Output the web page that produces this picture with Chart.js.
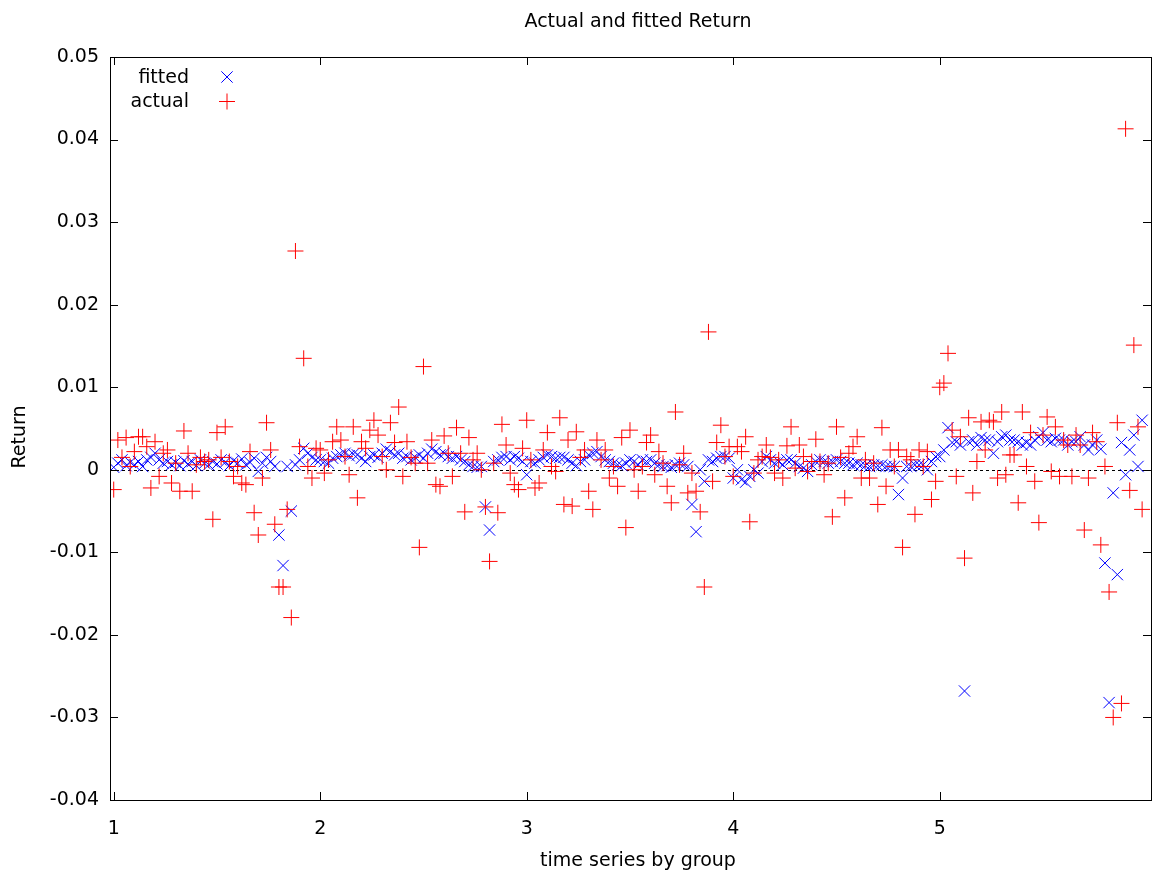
<!DOCTYPE html>
<html>
<head>
<meta charset="utf-8">
<title>Actual and fitted Return</title>
<script src="https://cdn.jsdelivr.net/npm/chart.js@4.4.1/dist/chart.umd.min.js"></script>
<style>
  body { margin: 0; background: #fff; }
  #chart { display: block; }
</style>
</head>
<body>
<canvas id="chart" width="1162" height="875"></canvas>
<script>
// groups on the x axis, each holds the same number of observations
const groups = [1, 2, 3, 4, 5];
const perGroup = 50;
const xTicks = [1, 2, 3, 4, 5];
const yTicks = [-0.04, -0.03, -0.02, -0.01, 0, 0.01, 0.02, 0.03, 0.04, 0.05];

// fitted return
const fittedG1 = [0.0003, 0.0008, 0.0012, 0.0005, 0.0009, 0.0006, 0.0010, 0.0004, 0.0012, 0.0015,
  0.0020, 0.0012, 0.0008, 0.0010, 0.0006, 0.0009, 0.0005, 0.0011, 0.0007, 0.0010,
  0.0005, 0.0012, 0.0008, 0.0006, 0.0010, 0.0007, 0.0012, 0.0009, 0.0005, 0.0011,
  0.0008, 0.0013, 0.0006, 0.0009, 0.0014, -0.0002, 0.0008, 0.0015, 0.0010, 0.0004,
  -0.0079, -0.0116, 0.0004, -0.0050, 0.0006, 0.0012, 0.0026, 0.0020, 0.0015, 0.0012];
const fittedG2 = [0.0012, 0.0010, 0.0008, 0.0014, 0.0016, 0.0018, 0.0020, 0.0017, 0.0019, 0.0018,
  0.0014, 0.0010, 0.0016, 0.0018, 0.0015, 0.0020, 0.0025, 0.0022, 0.0018, 0.0020,
  0.0014, 0.0016, 0.0012, 0.0015, 0.0018, 0.0014, 0.0020, 0.0025, 0.0022, 0.0018,
  0.0020, 0.0016, 0.0014, 0.0016, 0.0012, 0.0010, 0.0006, 0.0004, 0.0003, 0.0004,
  -0.0045, -0.0073, 0.0010, 0.0012, 0.0015, 0.0016, 0.0012, 0.0016, 0.0014, 0.0010];
const fittedG3 = [-0.0006, 0.0010, 0.0008, 0.0012, 0.0015, 0.0018, 0.0016, 0.0014, 0.0015, 0.0015,
  0.0012, 0.0008, 0.0005, 0.0010, 0.0012, 0.0018, 0.0020, 0.0022, 0.0016, 0.0012,
  0.0010, 0.0008, 0.0006, 0.0005, 0.0008, 0.0012, 0.0010, 0.0006, 0.0012, 0.0010,
  0.0012, 0.0008, 0.0006, 0.0004, 0.0005, 0.0003, 0.0006, 0.0008, 0.0006, 0.0004,
  -0.0042, -0.0075, 0.0000, -0.0014, 0.0012, 0.0010, 0.0014, 0.0016, 0.0016, 0.0014];
const fittedG4 = [-0.0010, 0.0000, -0.0012, -0.0015, -0.0008, 0.0000, -0.0004, 0.0010, 0.0016, 0.0012,
  0.0008, 0.0010, 0.0006, 0.0012, 0.0012, 0.0008, 0.0004, 0.0002, -0.0002, 0.0006,
  0.0010, 0.0012, 0.0010, 0.0008, 0.0010, 0.0012, 0.0010, 0.0008, 0.0008, 0.0006,
  0.0008, 0.0006, 0.0005, 0.0004, 0.0006, 0.0005, 0.0006, 0.0004, 0.0004, 0.0004,
  -0.0030, -0.0010, 0.0004, 0.0004, 0.0006, 0.0006, 0.0006, 0.0000, 0.0010, 0.0016];
const fittedG5 = [0.0016, 0.0024, 0.0051, 0.0033, 0.0034, 0.0030, -0.0268, 0.0034, 0.0036, 0.0030,
  0.0039, 0.0036, 0.0036, 0.0020, 0.0034, 0.0040, 0.0042, 0.0036, 0.0036, 0.0034,
  0.0030, 0.0033, 0.0030, 0.0036, 0.0040, 0.0045, 0.0036, 0.0034, 0.0038, 0.0036,
  0.0036, 0.0030, 0.0034, 0.0034, 0.0040, 0.0030, 0.0024, 0.0030, 0.0036, 0.0025,
  -0.0113, -0.0282, -0.0028, -0.0127, 0.0033, -0.0006, 0.0024, 0.0042, 0.0004, 0.0060];

// actual return
const actualG1 = [-0.0024, 0.0036, 0.0015, 0.0039, 0.0004, 0.0022, 0.0040, 0.0040, 0.0028, -0.0022,
  0.0034, -0.0008, 0.0020, 0.0024, -0.0016, 0.0008, -0.0026, 0.0047, 0.0020, -0.0026,
  0.0006, 0.0015, 0.0010, 0.0012, -0.0060, 0.0045, 0.0015, 0.0052, 0.0010, -0.0008,
  0.0004, -0.0016, -0.0018, 0.0022, -0.0052, -0.0079, -0.0010, 0.0057, 0.0024, -0.0066,
  -0.0142, -0.0142, -0.0048, -0.0179, 0.0265, 0.0028, 0.0135, 0.0004, -0.0010, 0.0026];
const actualG2 = [0.0024, -0.0004, 0.0012, 0.0034, 0.0052, 0.0036, 0.0016, -0.0006, 0.0052, -0.0034,
  0.0034, 0.0026, 0.0048, 0.0060, 0.0042, 0.0016, 0.0000, 0.0057, 0.0033, 0.0076,
  -0.0008, 0.0034, 0.0015, 0.0008, -0.0094, 0.0125, 0.0008, 0.0036, -0.0018, -0.0020,
  0.0041, 0.0020, -0.0008, 0.0051, 0.0020, -0.0051, 0.0039, 0.0012, 0.0020, 0.0000,
  -0.0045, -0.0111, 0.0008, -0.0052, 0.0055, 0.0030, -0.0004, -0.0018, -0.0024, 0.0026];
const actualG3 = [0.0060, 0.0012, -0.0022, -0.0016, 0.0024, 0.0045, 0.0004, -0.0002, 0.0063, -0.0042,
  0.0036, -0.0044, 0.0046, 0.0015, 0.0024, -0.0026, -0.0048, 0.0036, 0.0012, 0.0024,
  -0.0010, 0.0004, -0.0020, 0.0039, -0.0070, 0.0048, 0.0000, -0.0026, 0.0004, 0.0033,
  0.0042, -0.0006, 0.0022, 0.0008, -0.0020, -0.0040, 0.0070, 0.0006, 0.0020, -0.0028,
  -0.0004, -0.0026, -0.0051, -0.0142, 0.0167, -0.0014, 0.0033, 0.0054, 0.0016, 0.0028];
const actualG4 = [-0.0008, 0.0028, 0.0022, 0.0040, -0.0063, -0.0004, 0.0012, 0.0016, 0.0030, 0.0015,
  -0.0004, 0.0012, -0.0010, 0.0029, 0.0052, 0.0002, 0.0030, 0.0016, -0.0002, 0.0010,
  0.0037, 0.0010, -0.0006, 0.0008, -0.0057, 0.0052, 0.0015, -0.0034, 0.0020, 0.0028,
  0.0040, -0.0010, 0.0012, -0.0010, 0.0008, -0.0042, 0.0051, -0.0020, 0.0024, 0.0004,
  0.0024, -0.0094, 0.0016, 0.0012, -0.0054, 0.0024, 0.0004, 0.0022, -0.0036, -0.0014];
const actualG5 = [0.0100, 0.0105, 0.0141, 0.0048, -0.0008, 0.0040, -0.0107, 0.0063, -0.0028, 0.0010,
  0.0058, 0.0024, 0.0060, 0.0058, -0.0010, 0.0070, -0.0006, 0.0018, 0.0018, -0.0040,
  0.0070, 0.0004, 0.0045, -0.0014, -0.0064, 0.0042, 0.0064, -0.0002, 0.0052, -0.0008,
  0.0036, 0.0030, -0.0008, 0.0042, 0.0030, -0.0073, -0.0010, 0.0045, 0.0034, -0.0091,
  0.0004, -0.0148, -0.0300, 0.0057, -0.0283, 0.0413, -0.0025, 0.0151, 0.0052, -0.0048];

const fittedGroups = [fittedG1, fittedG2, fittedG3, fittedG4, fittedG5];
const actualGroups = [actualG1, actualG2, actualG3, actualG4, actualG5];

// observation i of group g sits at g + i/perGroup
function toPoints(series) {
    const points = [];
    series.forEach((values, g) => {
        values.forEach((v, i) => {
            points.push({ x: groups[g] + i / perGroup, y: v });
        });
    });
    return points;
}

const FONT = "'DejaVu Sans', Verdana, sans-serif";
const FONT_SIZE = 19;

// dashed zero axis, drawn under the points like gnuplot does
const zeroAxis = {
    id: 'zeroAxis',
    beforeDatasetsDraw(chart) {
        const ctx = chart.ctx;
        const a = chart.chartArea;
        const y0 = Math.round(chart.scales.y.getPixelForValue(0)) + 0.5;
        ctx.save();
        ctx.strokeStyle = '#000';
        ctx.lineWidth = 1;
        ctx.setLineDash([3, 3]);
        ctx.beginPath();
        ctx.moveTo(a.left, y0);
        ctx.lineTo(a.right, y0);
        ctx.stroke();
        ctx.restore();
    }
};

// gnuplot style frame: box, inward ticks on all four sides, titles and key
const gnuplotFrame = {
    id: 'gnuplotFrame',
    afterDatasetsDraw(chart) {
        const ctx = chart.ctx;
        const a = chart.chartArea;
        const xs = chart.scales.x;
        const ys = chart.scales.y;
        ctx.save();

        ctx.strokeStyle = '#000';
        ctx.lineWidth = 1;
        ctx.strokeRect(a.left + 0.5, a.top + 0.5, a.right - a.left, a.bottom - a.top);

        ctx.beginPath();
        xTicks.forEach(v => {
            const px = Math.round(xs.getPixelForValue(v)) + 0.5;
            ctx.moveTo(px, a.bottom);
            ctx.lineTo(px, a.bottom - 8);
            ctx.moveTo(px, a.top);
            ctx.lineTo(px, a.top + 8);
        });
        yTicks.forEach(v => {
            const py = Math.round(ys.getPixelForValue(v)) + 0.5;
            ctx.moveTo(a.left, py);
            ctx.lineTo(a.left + 8, py);
            ctx.moveTo(a.right, py);
            ctx.lineTo(a.right - 8, py);
        });
        ctx.stroke();

        ctx.fillStyle = '#000';
        ctx.textAlign = 'center';
        ctx.textBaseline = 'middle';
        ctx.font = FONT_SIZE + 'px ' + FONT;
        ctx.fillText('Actual and fitted Return', 638, 22);
        ctx.fillText('time series by group', 638, 861);
        ctx.save();
        ctx.translate(20, 437);
        ctx.rotate(-Math.PI / 2);
        ctx.fillText('Return', 0, 0);
        ctx.restore();

        // key, text first then the sample mark
        ctx.textAlign = 'right';
        ctx.fillText('fitted', 189, 78);
        ctx.fillText('actual', 189, 102);
        chart.data.datasets.forEach((ds, i) => {
            ctx.strokeStyle = ds.borderColor;
            ctx.fillStyle = ds.backgroundColor;
            Chart.helpers.drawPoint(ctx, {
                pointStyle: ds.pointStyle,
                radius: ds.pointRadius,
                rotation: 0,
                borderWidth: ds.borderWidth
            }, 227, 77 + i * 24.5);
        });

        ctx.restore();
    }
};

new Chart(document.getElementById('chart').getContext('2d'), {
    type: 'scatter',
    data: {
        datasets: [
            {
                label: 'fitted',
                data: toPoints(fittedGroups),
                pointStyle: 'crossRot',
                pointRadius: 8,
                borderColor: '#0000ff',
                backgroundColor: '#0000ff',
                borderWidth: 1,
                order: 2
            },
            {
                label: 'actual',
                data: toPoints(actualGroups),
                pointStyle: 'cross',
                pointRadius: 8,
                borderColor: '#ff0000',
                backgroundColor: '#ff0000',
                borderWidth: 1,
                order: 1
            }
        ]
    },
    options: {
        responsive: false,
        animation: false,
        devicePixelRatio: 1,
        layout: { padding: { top: 57, right: 11, left: 0, bottom: 0 } },
        plugins: {
            legend: { display: false },
            title: { display: false },
            tooltip: { enabled: false }
        },
        scales: {
            x: {
                type: 'linear',
                min: 0.982,
                max: 6.023,
                afterBuildTicks: scale => { scale.ticks = xTicks.map(v => ({ value: v })); },
                afterFit: scale => { scale.height = 75; },
                grid: { display: false, drawTicks: false },
                border: { display: false },
                ticks: {
                    color: '#000',
                    font: { family: FONT, size: FONT_SIZE },
                    padding: 18,
                    maxRotation: 0,
                    callback: v => String(v)
                }
            },
            y: {
                type: 'linear',
                min: -0.04,
                max: 0.05,
                afterBuildTicks: scale => { scale.ticks = yTicks.map(v => ({ value: v })); },
                afterFit: scale => { scale.width = 110; },
                grid: { display: false, drawTicks: false },
                border: { display: false },
                ticks: {
                    color: '#000',
                    font: { family: FONT, size: FONT_SIZE },
                    padding: 11,
                    callback: v => String(Math.round(v * 100) / 100)
                }
            }
        }
    },
    plugins: [zeroAxis, gnuplotFrame]
});
</script>
</body>
</html>
